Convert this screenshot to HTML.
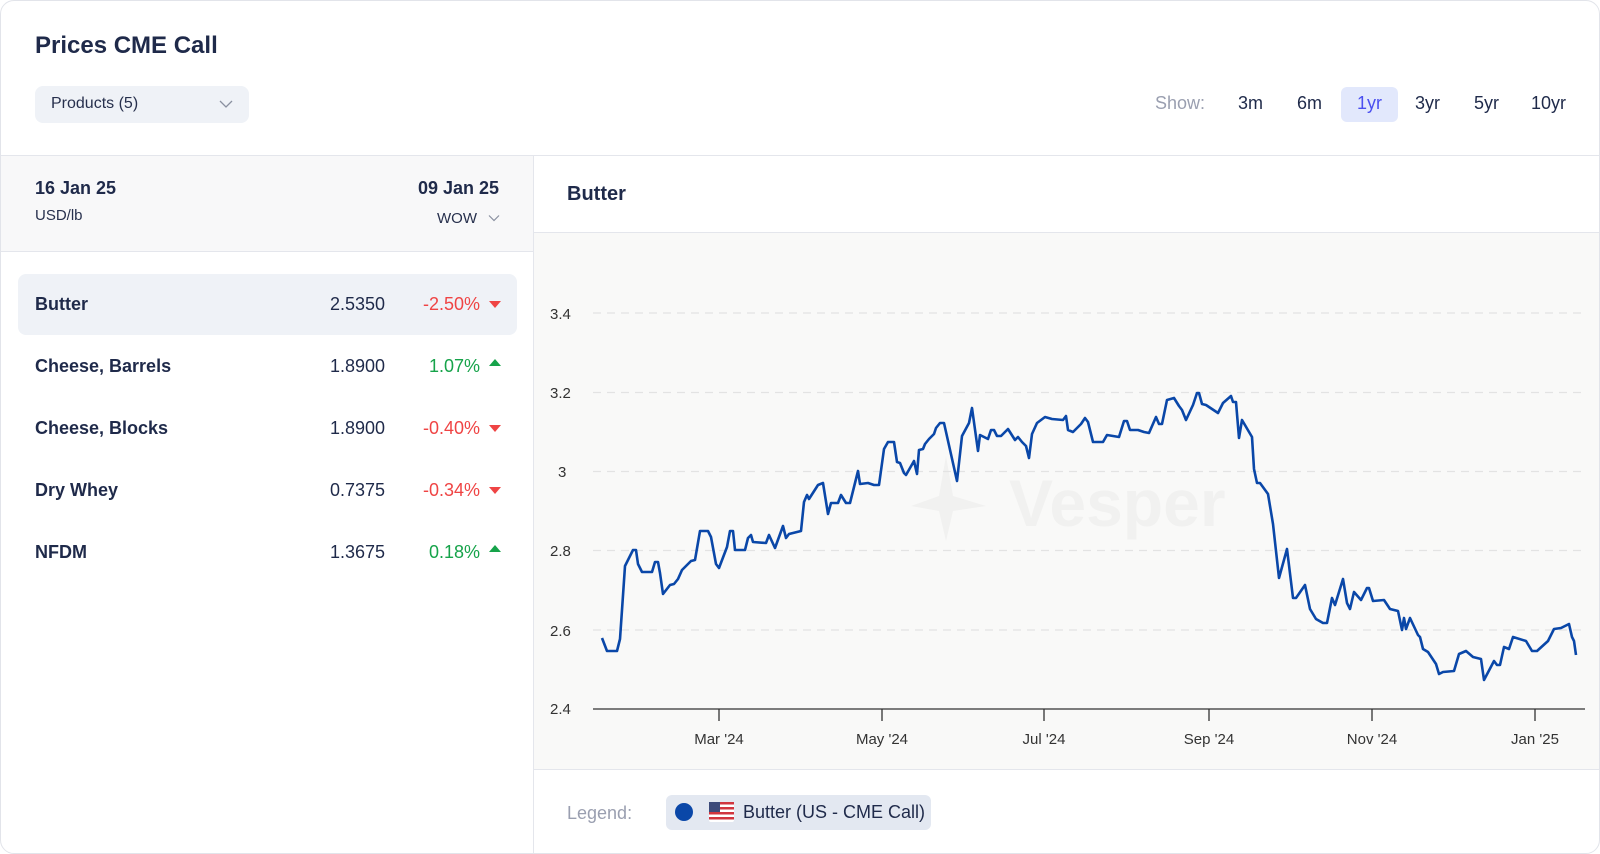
<!DOCTYPE html>
<html><head><meta charset="utf-8"><style>
*{margin:0;padding:0;box-sizing:border-box}
body{width:1600px;height:854px;background:#fff;font-family:"Liberation Sans",Arial,sans-serif;color:#1f2a4a;position:relative;overflow:hidden}
.card{position:absolute;left:0;top:0;width:1600px;height:854px;border:1px solid #e2e4ea;border-radius:14px;overflow:hidden;background:#fff}
.a{position:absolute;white-space:nowrap}
</style></head><body>
<div class="card">
<div class="a" style="left:34px;top:31px;font-size:24px;font-weight:bold;color:#1f2a4a">Prices CME Call</div>
<div class="a" style="left:34px;top:85px;width:214px;height:37px;background:#eff2f7;border-radius:8px"></div>
<div class="a" style="left:50px;top:94px;font-size:16px;color:#27304d">Products (5)</div>
<svg class="a" style="left:218px;top:98px" width="14" height="10"><path d="M1 2 L7 8 L13 2" fill="none" stroke="#8a90a0" stroke-width="1.3"/></svg>
<div class="a" style="left:1154px;top:92px;font-size:18px;color:#9a9fb0">Show:</div>
<div class="a" style="left:1340px;top:86px;width:57px;height:35px;background:#e2e8fc;border-radius:6px"></div>
<div class="a" style="left:1237px;top:92px;font-size:18px;color:#1f2a4a">3m</div>
<div class="a" style="left:1296px;top:92px;font-size:18px;color:#1f2a4a">6m</div>
<div class="a" style="left:1356px;top:92px;font-size:18px;color:#4a4ff0">1yr</div>
<div class="a" style="left:1414px;top:92px;font-size:18px;color:#1f2a4a">3yr</div>
<div class="a" style="left:1473px;top:92px;font-size:18px;color:#1f2a4a">5yr</div>
<div class="a" style="left:1530px;top:92px;font-size:18px;color:#1f2a4a">10yr</div>
<div class="a" style="left:0;top:154px;width:1600px;height:1px;background:#e4e6ec"></div>
<!-- left panel -->
<div class="a" style="left:0;top:155px;width:532px;height:96px;background:#f8f8f9;border-bottom:1px solid #e4e6ec"></div>
<div class="a" style="left:532px;top:155px;width:1px;height:699px;background:#e4e6ec"></div>
<div class="a" style="left:34px;top:177px;font-size:18px;font-weight:bold">16 Jan 25</div>
<div class="a" style="left:34px;top:206px;font-size:15px;color:#27304d">USD/lb</div>
<div class="a" style="right:1100px;top:177px;font-size:18px;font-weight:bold">09 Jan 25</div>
<div class="a" style="left:436px;top:209px;font-size:15px;color:#27304d">WOW</div>
<svg class="a" style="left:487px;top:213px" width="12" height="8"><path d="M1 1.5 L6 6.5 L11 1.5" fill="none" stroke="#8a90a0" stroke-width="1.2"/></svg>
<div class="a" style="left:17px;top:273px;width:499px;height:61px;background:#eff2f7;border-radius:8px"></div>
<div style="position:absolute;left:0;top:0;font-size:18px">
<div class="a" style="left:34px;top:293px;font-weight:bold">Butter</div>
<div class="a" style="right:-384px;top:293px">2.5350</div>
<div class="a" style="right:-479px;top:293px;color:#ef4444">-2.50%</div>
<div class="a" style="left:34px;top:355px;font-weight:bold">Cheese, Barrels</div>
<div class="a" style="right:-384px;top:355px">1.8900</div>
<div class="a" style="right:-479px;top:355px;color:#16a34a">1.07%</div>
<div class="a" style="left:34px;top:417px;font-weight:bold">Cheese, Blocks</div>
<div class="a" style="right:-384px;top:417px">1.8900</div>
<div class="a" style="right:-479px;top:417px;color:#ef4444">-0.40%</div>
<div class="a" style="left:34px;top:479px;font-weight:bold">Dry Whey</div>
<div class="a" style="right:-384px;top:479px">0.7375</div>
<div class="a" style="right:-479px;top:479px;color:#ef4444">-0.34%</div>
<div class="a" style="left:34px;top:541px;font-weight:bold">NFDM</div>
<div class="a" style="right:-384px;top:541px">1.3675</div>
<div class="a" style="right:-479px;top:541px;color:#16a34a">0.18%</div>
</div>
<svg class="a" style="left:488px;top:298px" width="12" height="260">
<path d="M0 2 L12 2 L6 9Z" fill="#ef4444"/>
<path d="M0 67 L12 67 L6 60Z" fill="#16a34a"/>
<path d="M0 126 L12 126 L6 133Z" fill="#ef4444"/>
<path d="M0 188 L12 188 L6 195Z" fill="#ef4444"/>
<path d="M0 253 L12 253 L6 246Z" fill="#16a34a"/>
</svg>
<!-- right panel -->
<div class="a" style="left:566px;top:182px;font-size:20px;font-weight:bold">Butter</div>
<div class="a" style="left:533px;top:231px;width:1067px;height:538px;background:#f9f9f8;border-top:1px solid #e4e6ec;border-bottom:1px solid #e4e6ec"></div>
<svg class="a" style="left:0;top:0" width="1600" height="854">
<text x="1008" y="525" font-size="66" font-weight="bold" fill="#f1f1f0" font-family="Liberation Sans, sans-serif">Vesper</text>
<path d="M945 455 L952 495 L985 505 L952 510 L945 540 L938 510 L910 505 L938 495Z" fill="#f1f1f0"/>
<g stroke="#e3e3e3" stroke-width="1.3" stroke-dasharray="8,6">
<line x1="592" y1="312" x2="1584" y2="312"/><line x1="592" y1="391.5" x2="1584" y2="391.5"/>
<line x1="592" y1="470.5" x2="1584" y2="470.5"/><line x1="592" y1="549.5" x2="1584" y2="549.5"/>
<line x1="592" y1="629" x2="1584" y2="629"/></g>
<line x1="592" y1="708" x2="1584" y2="708" stroke="#333" stroke-width="1.3"/>
<g stroke="#333" stroke-width="1.3"><line x1="718" y1="708" x2="718" y2="720"/><line x1="881" y1="708" x2="881" y2="720"/><line x1="1043" y1="708" x2="1043" y2="720"/><line x1="1208" y1="708" x2="1208" y2="720"/><line x1="1371" y1="708" x2="1371" y2="720"/><line x1="1534" y1="708" x2="1534" y2="720"/></g>
<g font-size="15" fill="#333" font-family="Liberation Sans, sans-serif">
<text x="549" y="318">3.4</text><text x="549" y="397">3.2</text><text x="557" y="476">3</text><text x="549" y="555">2.8</text><text x="549" y="635">2.6</text><text x="549" y="713">2.4</text>
<g text-anchor="middle"><text x="718" y="743">Mar '24</text><text x="881" y="743">May '24</text><text x="1043" y="743">Jul '24</text><text x="1208" y="743">Sep '24</text><text x="1371" y="743">Nov '24</text><text x="1534" y="743">Jan '25</text></g>
</g>
<polyline fill="none" stroke="#0a47a8" stroke-width="2.6" stroke-linejoin="round" points="601,637 606,650 616,650 619,638 621,609 624,565 632,549 635,549 637,563 641,571 651,571 654,561 657,561 659,572 662,593 669,584 673,583 677,578 681,569 690,560 694,559 699,530 707,530 710,536 715,563 718,567 726,546 729,530 732,530 734,549 744,549 747,537 750,534 752,541 765,542 768,534 774,547 782,525 785,537 788,533 800,530 803,501 806,494 808,498 817,484 822,482 827,513 830,502 837,502 840,494 845,502 849,502 857,470 859,483 867,482 873,484 878,484 883,448 887,441 893,441 896,461 899,462 903,472 905,474 913,460 916,473 918,449 922,448 924,443 928,438 933,433 935,427 939,422 943,422 956,480 961,435 968,422 971,407 977,450 979,434 987,438 990,429 993,429 996,435 1000,435 1007,428 1014,439 1017,436 1021,441 1025,445 1028,457 1031,433 1036,422 1044,416 1051,418 1062,419 1065,415 1067,429 1072,431 1080,423 1084,417 1087,421 1092,441 1102,441 1106,434 1118,436 1123,420 1126,420 1129,429 1137,429 1143,431 1148,432 1155,416 1158,423 1161,423 1166,399 1173,397 1178,405 1181,409 1185,419 1192,404 1196,392 1198,392 1201,403 1205,404 1217,412 1222,402 1230,395 1232,401 1235,401 1238,437 1241,419 1251,436 1253,468 1256,482 1259,482 1267,493 1272,523 1278,577 1286,548 1292,597 1295,597 1304,584 1309,608 1315,618 1322,622 1326,622 1331,597 1334,604 1342,578 1346,602 1349,608 1353,591 1360,599 1366,587 1368,587 1372,600 1383,599 1389,608 1397,610 1401,629 1403,617 1405,628 1409,617 1417,634 1419,636 1422,648 1427,651 1435,663 1438,673 1442,671 1453,670 1458,653 1465,650 1472,656 1480,658 1483,679 1493,660 1496,664 1499,664 1503,646 1508,648 1512,636 1525,640 1531,650 1536,650 1547,640 1553,628 1560,627 1566,624 1568,623 1571,636 1573,640 1575,654"/>
</svg>
<div class="a" style="left:566px;top:802px;font-size:18px;color:#9a9fb0">Legend:</div>
<div class="a" style="left:665px;top:794px;width:265px;height:35px;background:#e3e8f1;border-radius:6px"></div>
<div class="a" style="left:674px;top:802px;width:18px;height:18px;border-radius:50%;background:#0a47a8"></div>
<svg class="a" style="left:708px;top:801px" width="25" height="20"><rect width="25" height="20" rx="2" fill="#fff"/><g fill="#d0353f"><rect y="0" width="25" height="2.5"/><rect y="5" width="25" height="2.5"/><rect y="10" width="25" height="2.5"/><rect y="15" width="25" height="2.5"/></g><rect width="11" height="10" fill="#3c4a7a"/></svg>
<div class="a" style="left:742px;top:801px;font-size:18px;color:#1f2a4a">Butter (US - CME Call)</div>
</div>
</body></html>
